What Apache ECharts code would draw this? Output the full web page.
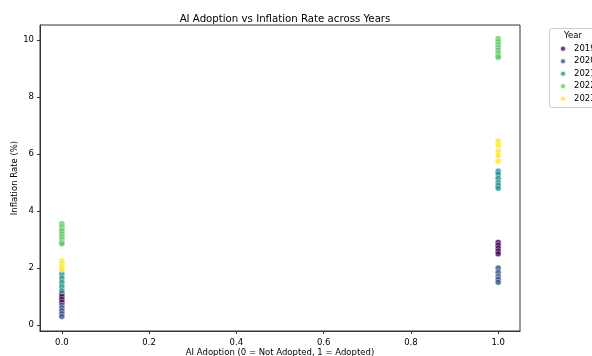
<!DOCTYPE html>
<html><head><meta charset="utf-8">
<script src="https://cdn.jsdelivr.net/npm/echarts@6/dist/echarts.min.js"></script>
<style>html,body{margin:0;padding:0;background:#fff;}#c{width:592px;height:356px;}</style>
</head><body><div id="c"></div>
<script>
const years = ['2019', '2020', '2021', '2022', '2023'];
const colors = ['#440154', '#3b528b', '#21918c', '#5ec962', '#fde725'];
// inflation values at AI adoption = 0
const notAdopted = {
  '2019': [1.1, 1.0, 0.9, 0.8],
  '2020': [0.7, 0.6, 0.5, 0.4, 0.3],
  '2021': [1.8, 1.65, 1.5, 1.35, 1.2],
  '2022': [3.55, 3.45, 3.35, 3.3, 3.2, 3.1, 3.0, 2.9, 2.85],
  '2023': [2.25, 2.15, 2.05, 1.95]
};
// inflation values at AI adoption = 1
const adopted = {
  '2019': [2.9, 2.8, 2.7, 2.6, 2.5],
  '2020': [2.0, 1.85, 1.7, 1.6, 1.5],
  '2021': [5.4, 5.3, 5.15, 5.0, 4.9, 4.8],
  '2022': [10.05, 9.95, 9.85, 9.75, 9.65, 9.55, 9.45, 9.4],
  '2023': [6.45, 6.3, 6.1, 5.95, 5.75]
};
const xTicks = [0.0, 0.2, 0.4, 0.6, 0.8, 1.0];
const yTicks = [0, 2, 4, 6, 8, 10];

const series = years.map((y, i) => ({
  name: y,
  type: 'scatter',
  symbolSize: 6,
  itemStyle: { color: colors[i], opacity: 0.8, borderColor: '#fff', borderWidth: 0.5 },
  data: notAdopted[y].map(v => [0, v]).concat(adopted[y].map(v => [1, v]))
}));

const F = 'DejaVu Sans';
const chart = echarts.init(document.getElementById('c'));
chart.setOption({
  animation: false,
  backgroundColor: '#fff',
  title: { text: 'AI Adoption vs Inflation Rate across Years', left: 280, top: 9, textAlign: 'center',
    textStyle: { fontFamily: F, fontSize: 10.2, fontWeight: 'normal', color: '#000' } },
  grid: { left: 40, right: 72, top: 25, bottom: 25, outerBoundsMode: 'none', containLabel: false,
    show: true, borderColor: '#333', borderWidth: 1 },
  xAxis: { type: 'value', min: -0.05, max: 1.05, interval: 0.2,
    axisLine: { show: true, onZero: false, lineStyle: { color: '#333' } },
    axisTick: { show: true, length: 3, lineStyle: { color: '#333' }, customValues: xTicks },
    axisLabel: { color: '#000', fontFamily: F, fontSize: 8.5, margin: 7,
      customValues: xTicks, formatter: v => v.toFixed(1) },
    splitLine: { show: false },
    name: 'AI Adoption (0 = Not Adopted, 1 = Adopted)', nameLocation: 'middle', nameGap: 17.5, nameMoveOverlap: false,
    nameTextStyle: { color: '#000', fontFamily: F, fontSize: 8.5 } },
  yAxis: { type: 'value', min: -0.21, max: 10.53,
    axisLine: { show: true, onZero: false, lineStyle: { color: '#333' } },
    axisTick: { show: true, length: 3, lineStyle: { color: '#333' }, customValues: yTicks },
    axisLabel: { color: '#000', fontFamily: F, fontSize: 8.5, margin: 6, customValues: yTicks },
    splitLine: { show: false },
    name: 'Inflation Rate (%)', nameLocation: 'middle', nameGap: 21, nameMoveOverlap: false,
    nameTextStyle: { color: '#000', fontFamily: F, fontSize: 8.5 } },
  legend: { orient: 'vertical', left: 559, top: 43.5, itemGap: 2, itemWidth: 6, itemHeight: 6,
    icon: 'circle', data: years, padding: 0,
    textStyle: { color: '#000', fontFamily: F, fontSize: 8.5, lineHeight: 10.5, padding: [0, 0, 0, 3] } },
  graphic: [
    { type: 'rect', left: 549, top: 28, z: -1, shape: { width: 60, height: 79, r: 2 },
      style: { fill: '#fff', stroke: '#ccc', lineWidth: 1 } },
    { type: 'text', left: 564, top: 31, style: { text: 'Year', fill: '#000', font: '8.5px "DejaVu Sans"' } }
  ],
  series: series
});
</script></body></html>
